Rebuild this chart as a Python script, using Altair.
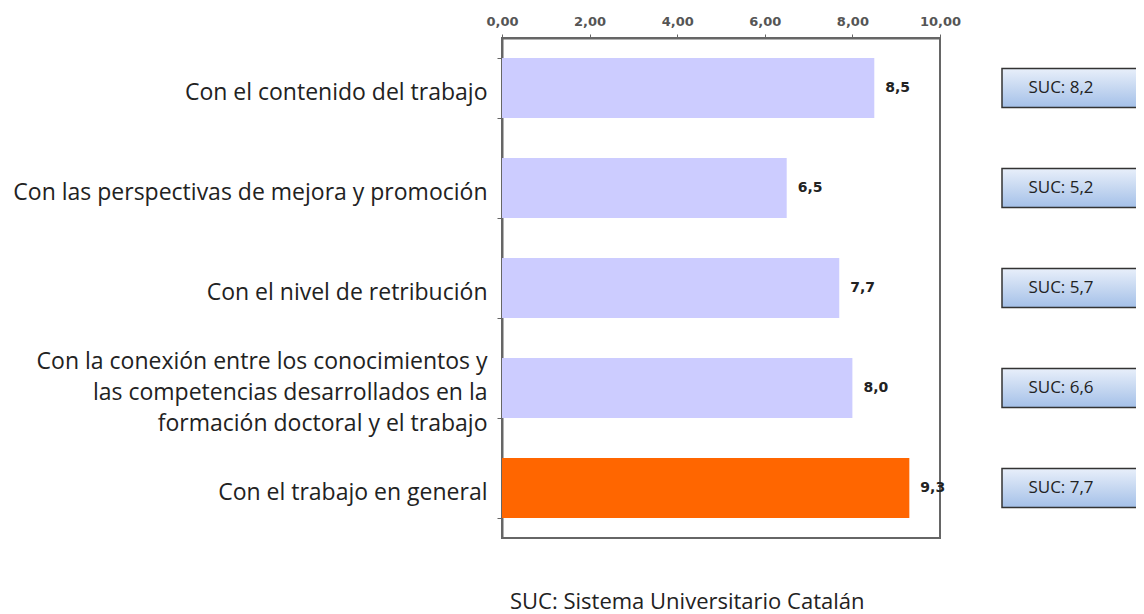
import altair as alt
import pandas as pd

categories = [
    "Con el contenido del trabajo ",
    "Con las perspectivas de mejora y promoción",
    "Con el nivel de retribución ",
    "Con la conexión entre los conocimientos y|las competencias desarrollados en la|formación doctoral y el trabajo",
    "Con el trabajo en general ",
]
values = [8.5, 6.5, 7.7, 8.0, 9.3]
suc_values = [8.2, 5.2, 5.7, 6.6, 7.7]
highlight = [False, False, False, False, True]
x_ticks = [0, 2, 4, 6, 8, 10]
footer = "SUC: Sistema Universitario Catalán"

df = pd.DataFrame({"cat": categories, "value": values, "suc": suc_values, "hl": highlight})

y_enc = alt.Y(
    "cat:N",
    sort=categories,
    scale=alt.Scale(paddingInner=0.4, paddingOuter=0.2),
    axis=alt.Axis(
        title=None,
        labelExpr="split(indexof(datum.label, '|') >= 0 ? datum.label : '|' + datum.label, '|')",
        labelFont="Open Sans",
        labelFontSize=23,
        labelLineHeight=31,
        labelColor="#222222",
        labelPadding=10,
        labelLimit=600,
        labelOffset=-27,
        tickBand="extent",
        tickSize=5,
        tickColor="#666666",
        domainColor="#666666",
        domainWidth=2,
    ),
)

x_enc = alt.X(
    "value:Q",
    scale=alt.Scale(domain=[0, 10], nice=False),
    axis=alt.Axis(
        orient="top",
        title=None,
        values=x_ticks,
        grid=False,
        labelFlush=False,
        labelOverlap=False,
        labelExpr="replace(format(datum.value, '.2f'), '.', ',')",
        labelFont="DejaVu Sans",
        labelFontSize=13,
        labelFontWeight="bold",
        labelColor="#555555",
        labelPadding=6,
        tickSize=4,
        tickColor="#666666",
        domainColor="#666666",
        domainWidth=2,
    ),
)

bars = alt.Chart(df).mark_bar().encode(
    y=y_enc,
    x=x_enc,
    color=alt.Color(
        "hl:N",
        scale=alt.Scale(domain=[False, True], range=["#CCCCFF", "#FF6600"]),
        legend=None,
    ),
)

labels = alt.Chart(df).transform_calculate(
    lab="replace(format(datum.value, '.1f'), '.', ',')"
).mark_text(
    align="left", baseline="middle", dx=11, font="DejaVu Sans", fontWeight="bold",
    fontSize=14, color="#222222"
).encode(y=alt.Y("cat:N", sort=categories), x="value:Q", text="lab:N")

gradient = alt.LinearGradient(
    gradient="linear",
    stops=[alt.GradientStop(offset=0, color="#E8EFFA"), alt.GradientStop(offset=1, color="#A4C0E8")],
    x1=0, x2=0, y1=0, y2=1,
)

boxes = alt.Chart(df).mark_bar(
    size=39, fill=gradient, stroke="#333333", strokeWidth=1.5
).encode(
    y=alt.Y("cat:N", sort=categories),
    x=alt.value(500),
    x2=alt.value(700),
)

box_text = alt.Chart(df).transform_calculate(
    lab="'SUC: ' + replace(format(datum.suc, '.1f'), '.', ',')"
).mark_text(
    align="center", baseline="middle", font="Open Sans", fontSize=17, color="#222222"
).encode(
    y=alt.Y("cat:N", sort=categories),
    x=alt.value(559),
    text="lab:N",
)

chart = alt.layer(bars, labels, boxes, box_text).properties(
    width=438,
    height=500,
    autosize=alt.AutoSizeParams(type="none"),
    padding={"left": 494, "top": 30, "right": 196, "bottom": 76},
    title=alt.TitleParams(
        footer, orient="bottom", anchor="start", frame="group", dx=8, offset=54,
        font="Open Sans", fontSize=22, fontWeight="normal", color="#222222",
    ),
).configure_view(stroke="#666666", strokeWidth=2)

chart.save("out.html", embed_options={"renderer": "svg", "actions": False})
